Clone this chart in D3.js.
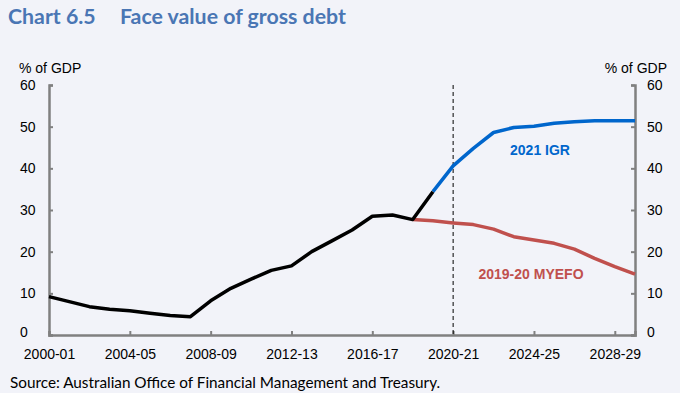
<!DOCTYPE html>
<html>
<head>
<meta charset="utf-8">
<script src="https://cdn.jsdelivr.net/npm/d3@7"></script>
<style>
  body { margin: 0; background: #f2f3f9; }
  svg { display: block; }
</style>
</head>
<body>
<svg id="chart"></svg>
<script>
// financial years on the x axis
var years = [];
for (var y = 2000; y <= 2029; y++) {
	years.push(y + "-" + String((y + 1) % 100).padStart(2, "0"));
}
var tickYears = ["2000-01", "2004-05", "2008-09", "2012-13", "2016-17", "2020-21", "2024-25", "2028-29"];
var yTicks = [0, 10, 20, 30, 40, 50, 60];

// actuals 2000-01 .. 2019-20
var actualYears = years.slice(0, 20);
var actualVals = [9.2, 8.0, 6.8, 6.2, 5.8, 5.2, 4.7, 4.4, 8.2, 11.2, 13.4, 15.5, 16.6, 20.0, 22.6, 25.2, 28.5, 28.8, 27.7, 34.4];

// 2021 IGR projection 2019-20 .. 2029-30
var igrYears = years.slice(19);
var igrVals = [34.4, 40.6, 44.8, 48.6, 49.8, 50.1, 50.8, 51.2, 51.4, 51.4, 51.4];

// 2019-20 MYEFO 2018-19 .. 2029-30
var myefoYears = years.slice(18);
var myefoVals = [27.7, 27.4, 26.9, 26.5, 25.4, 23.6, 22.8, 22.0, 20.6, 18.4, 16.4, 14.6];

var width = 680, height = 393;
var margin = {left: 49, right: 45, top: 85, bottom: 58};

var svg = d3.select("#chart").attr("width", width).attr("height", height);

var x = d3.scalePoint().domain(years).range([margin.left, width - margin.right]);
var yScale = d3.scaleLinear().domain([0, 60]).range([height - margin.bottom, margin.top]);

var titleFont = "Lato, 'Open Sans', sans-serif";
var axisFont = "'Liberation Sans', Arial, sans-serif";

// title
svg.append("text")
	.attr("x", 8).attr("y", 24)
	.attr("font-family", titleFont)
	.attr("font-weight", "bold")
	.attr("font-size", 21.3)
	.attr("fill", "#4a76b4")
	.text("Chart 6.5");
svg.append("text")
	.attr("x", 120).attr("y", 24)
	.attr("font-family", titleFont)
	.attr("font-weight", "bold")
	.attr("font-size", 21.3)
	.attr("fill", "#4a76b4")
	.text("Face value of gross debt");

// axes
var left = svg.append("g")
	.attr("transform", "translate(" + margin.left + ",0)")
	.call(d3.axisLeft(yScale).tickValues(yTicks).tickSize(-4).tickPadding(10));
var right = svg.append("g")
	.attr("transform", "translate(" + (width - margin.right) + ",0)")
	.call(d3.axisRight(yScale).tickValues(yTicks).tickSize(-4).tickPadding(12));
var bottom = svg.append("g")
	.attr("transform", "translate(0," + (height - margin.bottom) + ")")
	.call(d3.axisBottom(x).tickValues(tickYears).tickSize(-4).tickPadding(10));

[left, right, bottom].forEach(function(g) {
	g.select(".domain").attr("stroke", "#808080").attr("stroke-width", 2.5);
	g.selectAll(".tick line").attr("stroke", "#808080").attr("stroke-width", 2);
	g.selectAll("text").attr("font-family", axisFont).attr("font-size", 14).attr("fill", "#000");
});
left.selectAll("text").attr("x", -29).attr("text-anchor", "start");
left.selectAll(".tick text").filter(function(d) { return d == 0; }).attr("dy", "0.1em");
right.selectAll(".tick text").filter(function(d) { return d == 0; }).attr("dy", "0.1em");
bottom.selectAll(".tick text").attr("dy", "1.0em");

// unit labels
svg.append("text").attr("x", 19).attr("y", 73)
	.attr("font-family", axisFont).attr("font-size", 14).text("% of GDP");
svg.append("text").attr("x", 667).attr("y", 73).attr("text-anchor", "end")
	.attr("font-family", axisFont).attr("font-size", 14).text("% of GDP");

// dashed marker at 2020-21
svg.append("line")
	.attr("x1", x("2020-21")).attr("x2", x("2020-21"))
	.attr("y1", yScale(60)).attr("y2", yScale(0))
	.attr("stroke", "#000").attr("stroke-width", 1).attr("stroke-dasharray", "4,3");

var line = d3.line()
	.x(function(d) { return x(d[0]); })
	.y(function(d) { return yScale(d[1]); });

function drawSeries(ys, vals, color) {
	svg.append("path")
		.datum(d3.zip(ys, vals))
		.attr("d", line)
		.attr("fill", "none")
		.attr("stroke", color)
		.attr("stroke-width", 3.5)
		.attr("stroke-linejoin", "round");
}

drawSeries(myefoYears, myefoVals, "#c0504d");
drawSeries(igrYears, igrVals, "#0066cc");
drawSeries(actualYears, actualVals, "#000000");

// series labels
svg.append("text").attr("x", 540).attr("y", 155).attr("text-anchor", "middle")
	.attr("font-family", axisFont).attr("font-weight", "bold").attr("font-size", 14)
	.attr("fill", "#0066cc").text("2021 IGR");
svg.append("text").attr("x", 531).attr("y", 279).attr("text-anchor", "middle")
	.attr("font-family", axisFont).attr("font-weight", "bold").attr("font-size", 14)
	.attr("fill", "#c0504d").text("2019-20 MYEFO");

// source
svg.append("text").attr("x", 10).attr("y", 388)
	.attr("font-family", titleFont).attr("font-size", 15.3)
	.text("Source: Australian Office of Financial Management and Treasury.");
</script>
</body>
</html>
